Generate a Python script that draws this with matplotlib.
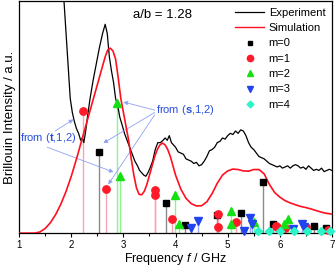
import matplotlib
matplotlib.use("Agg")
import matplotlib.pyplot as plt
from matplotlib.lines import Line2D

plt.rcParams['font.family'] = ['Liberation Sans', 'DejaVu Sans']
plt.rcParams['mathtext.fontset'] = 'custom'
plt.rcParams['mathtext.rm'] = 'Liberation Sans'
plt.rcParams['mathtext.it'] = 'Liberation Sans:italic'
plt.rcParams['mathtext.bf'] = 'Liberation Sans:bold'

# experiment (black, noisy)
exp_f = [1.80, 1.86, 1.90, 1.94, 1.98, 2.02, 2.06, 2.10, 2.14, 2.18, 2.21, 2.24, 2.27, 2.31, 2.36,
         2.42, 2.48, 2.54, 2.60, 2.65, 2.69, 2.73, 2.77, 2.81, 2.85, 2.89, 2.93, 2.97, 3.02, 3.07,
         3.12, 3.17, 3.22, 3.27, 3.31, 3.35, 3.39, 3.43, 3.47, 3.51, 3.56, 3.61, 3.66, 3.71, 3.76,
         3.80, 3.84, 3.88, 3.92, 3.96, 4.00, 4.05, 4.10, 4.15, 4.20, 4.25, 4.30, 4.35, 4.40, 4.45,
         4.50, 4.55, 4.60, 4.65, 4.70, 4.75, 4.80, 4.85, 4.90, 4.95, 5.00, 5.05, 5.10, 5.15, 5.20,
         5.25, 5.30, 5.35, 5.40, 5.45, 5.50, 5.55, 5.60, 5.65, 5.70, 5.75, 5.80, 5.85, 5.90, 5.95,
         6.00, 6.05, 6.10, 6.15, 6.20, 6.25, 6.30, 6.35, 6.40, 6.45, 6.50, 6.55, 6.60, 6.65, 6.70,
         6.75, 6.80, 6.85, 6.90, 6.95, 7.00]
exp_v = [1.30, 1.00, 0.86, 0.72, 0.58, 0.52, 0.48, 0.45, 0.43, 0.40, 0.41, 0.39, 0.43, 0.50, 0.58,
         0.66, 0.73, 0.80, 0.86, 0.90, 0.86, 0.76, 0.70, 0.65, 0.58, 0.55, 0.50, 0.47, 0.43, 0.40,
         0.37, 0.34, 0.31, 0.29, 0.27, 0.26, 0.25, 0.245, 0.26, 0.28, 0.31, 0.36, 0.39, 0.39, 0.40,
         0.41, 0.40, 0.42, 0.39, 0.38, 0.37, 0.35, 0.345, 0.34, 0.32, 0.315, 0.31, 0.30, 0.305, 0.29,
         0.295, 0.31, 0.33, 0.355, 0.36, 0.37, 0.39, 0.395, 0.41, 0.405, 0.42, 0.43, 0.425, 0.44, 0.43,
         0.445, 0.44, 0.42, 0.39, 0.37, 0.36, 0.345, 0.33, 0.325, 0.32, 0.31, 0.30, 0.295, 0.29, 0.285,
         0.29, 0.28, 0.285, 0.29, 0.28, 0.29, 0.295, 0.29, 0.28, 0.285, 0.275, 0.29, 0.28, 0.27, 0.275,
         0.27, 0.28, 0.265, 0.27, 0.275, 0.27]

# simulation (red, smooth)
sim_f = [1.0, 1.3, 1.4, 1.5, 1.6, 1.7, 1.8, 1.9, 2.0, 2.1, 2.2, 2.3, 2.4, 2.5, 2.6, 2.65, 2.7,
         2.75, 2.8, 2.85, 2.9, 2.95, 3.0, 3.05, 3.1, 3.15, 3.2, 3.25, 3.3, 3.35, 3.4, 3.45, 3.5,
         3.55, 3.6, 3.65, 3.7, 3.75, 3.8, 3.85, 3.9, 3.95, 4.0, 4.1, 4.2, 4.3, 4.4, 4.5, 4.6, 4.7,
         4.8, 4.9, 5.0, 5.1, 5.2, 5.3, 5.4, 5.5, 5.6, 5.7, 5.8, 5.9, 6.0, 6.1, 6.2, 6.3, 6.4, 6.5,
         6.6, 6.7, 6.8, 6.9, 7.0]
sim_v = [0.0, 0.0, 0.005, 0.02, 0.045, 0.08, 0.125, 0.18, 0.245, 0.32, 0.40, 0.48, 0.56, 0.64,
         0.72, 0.76, 0.79, 0.797, 0.785, 0.75, 0.67, 0.58, 0.52, 0.46, 0.40, 0.32, 0.25, 0.195,
         0.167, 0.165, 0.18, 0.21, 0.25, 0.29, 0.33, 0.36, 0.38, 0.388, 0.38, 0.36, 0.33, 0.29,
         0.25, 0.19, 0.15, 0.127, 0.117, 0.118, 0.135, 0.17, 0.215, 0.25, 0.268, 0.276, 0.274,
         0.268, 0.267, 0.274, 0.274, 0.255, 0.21, 0.175, 0.155, 0.14, 0.13, 0.122, 0.115, 0.11,
         0.104, 0.097, 0.09, 0.085, 0.082]

# mode lines
m0_f = [2.54, 3.81, 4.19, 4.80, 5.25, 5.67, 5.87, 6.65, 6.88]
m0_v = [0.35, 0.129, 0.035, 0.078, 0.086, 0.22, 0.04, 0.03, 0.02]
m1_f = [2.23, 2.67, 3.60, 3.61, 3.94, 4.82, 4.82, 5.15, 5.92, 5.95, 6.10, 6.50, 6.92]
m1_v = [0.526, 0.19, 0.185, 0.165, 0.06, 0.082, 0.026, 0.047, 0.03, 0.025, 0.02, 0.026, 0.015]
m2_f = [2.87, 2.94, 3.98, 4.06, 5.06, 5.06, 5.50, 6.08, 6.15]
m2_v = [0.56, 0.246, 0.165, 0.04, 0.095, 0.04, 0.05, 0.04, 0.06]
m3_f = [4.29, 4.44, 5.31, 5.42, 5.46, 6.25, 6.42, 6.46]
m3_v = [0.02, 0.052, 0.01, 0.065, 0.04, 0.017, 0.04, 0.027]
m4_f = [5.58, 5.79, 6.00, 6.27, 6.52, 6.79, 6.97]
m4_v = [0.008, 0.008, 0.008, 0.008, 0.01, 0.008, 0.008]

fig = plt.figure(figsize=(3.36, 2.72), dpi=100)
ax = fig.add_axes([0.057, 0.143, 0.931, 0.853])

ax.plot(exp_f, exp_v, color='black', lw=0.9, zorder=3)
ax.plot(sim_f, sim_v, color='#ff1020', lw=1.2, zorder=4)

modes = [
    (m0_f, m0_v, 's', 'black', '#8a8a8a', 3.8, 'm=0'),
    (m1_f, m1_v, 'o', '#ff1a2a', '#f5a3b5', 5.3, 'm=1'),
    (m2_f, m2_v, '^', '#14e014', '#8cf58c', 5.3, 'm=2'),
    (m3_f, m3_v, 'v', '#2244ee', '#96a6ff', 5.3, 'm=3'),
    (m4_f, m4_v, 'D', '#2af5c8', '#a0fbe6', 4.0, 'm=4'),
]
handles = [Line2D([], [], color='black', lw=0.9, label='Experiment'),
           Line2D([], [], color='#ff1020', lw=1.0, label='Simulation')]
for f, v, mk, col, scol, ms, lab in modes:
    ax.vlines(f, 0, v, color=scol, lw=1.0, zorder=2)
    ax.plot(f, v, ls='none', marker=mk, color=col, ms=ms, mec=col, zorder=5, clip_on=False)
    handles.append(Line2D([], [], ls='none', marker=mk, color=col, mec=col, ms=ms * 0.85, label=lab))

ax.legend(handles=handles, loc='upper right', bbox_to_anchor=(1.0, 1.0), frameon=False,
          fontsize=8, handlelength=2.6, handletextpad=0.4, labelspacing=0.48, borderaxespad=0.2)

ax.set_xlim(1, 7)
ax.set_ylim(0, 1)
ax.set_xticks([1, 2, 3, 4, 5, 6, 7])
ax.set_xticks([1.5, 2.5, 3.5, 4.5, 5.5, 6.5], minor=True)
ax.set_yticks([])
ax.tick_params(axis='x', labelsize=7, length=3, width=0.8, pad=2)
ax.tick_params(axis='x', which='minor', length=2, width=0.8)
for s in ax.spines.values():
    s.set_linewidth(0.9)
ax.set_xlabel(r'Frequency $\mathit{f}$ / GHz', fontsize=9, labelpad=1)
ax.set_ylabel('Brillouin Intensity / a.u.', fontsize=9.5, labelpad=2)

ax.text(3.19, 0.94, 'a/b = 1.28', fontsize=9.5, va='center')

# annotations
blue = '#2a4fe0'
arr = dict(arrowstyle='-|>', color='#8ea2f2', lw=0.6, mutation_scale=6, shrinkA=0, shrinkB=0)
ax.text(3.62, 0.53, r'from ($\mathbf{s}$,1,2)', color=blue, fontsize=8, va='center')
ax.annotate('', xy=(3.0, 0.565), xytext=(3.6, 0.53), arrowprops=arr)
ax.annotate('', xy=(2.615, 0.388), xytext=(3.6, 0.52), arrowprops=arr)
ax.annotate('', xy=(2.71, 0.21), xytext=(3.6, 0.51), arrowprops=arr)
ax.text(1.02, 0.41, r'from ($\mathbf{t}$,1,2)', color=blue, fontsize=8, va='center')
ax.annotate('', xy=(2.04, 0.49), xytext=(1.69, 0.44), arrowprops=arr)
ax.annotate('', xy=(2.81, 0.263), xytext=(1.54, 0.37), arrowprops=arr)

fig.savefig('out.png', dpi=100)
